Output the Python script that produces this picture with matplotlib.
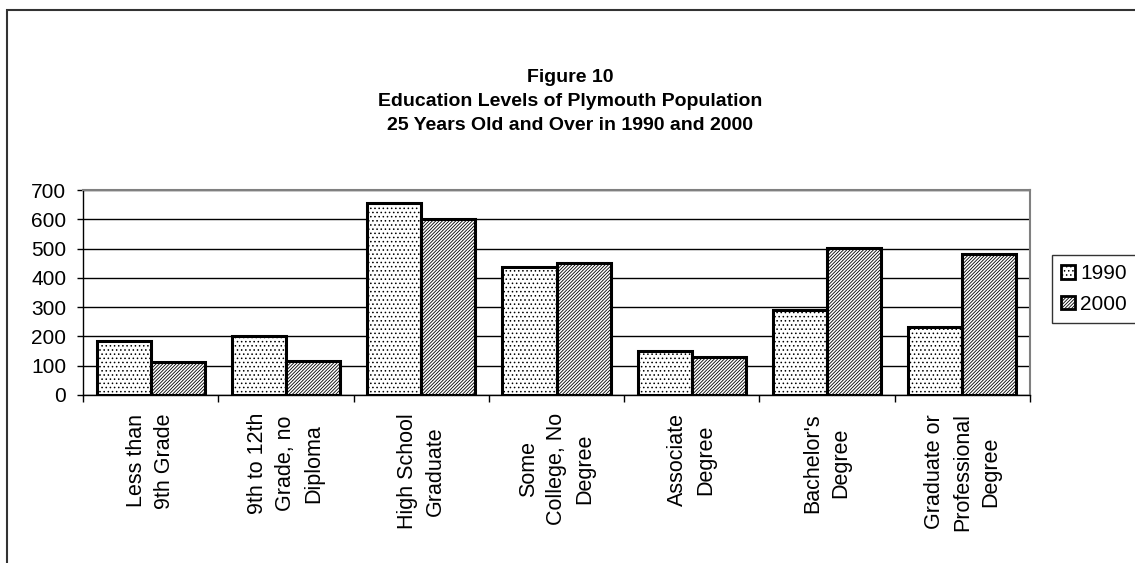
import numpy as np
import matplotlib.pyplot as plt
from matplotlib.patches import Rectangle, Patch

plt.rcParams['font.family'] = ['Liberation Sans', 'DejaVu Sans']
plt.rcParams['hatch.linewidth'] = 0.6

# Données : population de 25 ans et plus par niveau d'études
categories = [
    "Less than\n9th Grade",
    "9th to 12th\nGrade, no\nDiploma",
    "High School\nGraduate",
    "Some\nCollege, No\nDegree",
    "Associate\nDegree",
    "Bachelor's\nDegree",
    "Graduate or\nProfessional\nDegree",
]
annees = ["1990", "2000"]
valeurs_1990 = [185, 200, 655, 438, 150, 290, 232]
valeurs_2000 = [114, 115, 601, 452, 131, 502, 482]
graduations_y = [0, 100, 200, 300, 400, 500, 600, 700]

titre = ("Figure 10\nEducation Levels of Plymouth Population\n"
         "25 Years Old and Over in 1990 and 2000")

fig = plt.figure(figsize=(11.35, 5.63), dpi=100)
ax = fig.add_axes([83 / 1135, 1 - 395 / 563, (1030 - 83) / 1135, 205 / 563])

# Cadre extérieur du graphique
fig.patches.append(Rectangle((7 / 1135, -0.1), 1.2, 1.1 - 10 / 563,
                             transform=fig.transFigure, fill=False,
                             edgecolor='#333333', linewidth=1.5))

x = np.arange(len(categories))
largeur = 0.4
ax.bar(x - largeur / 2, valeurs_1990, largeur, color='white',
       edgecolor='black', linewidth=2.2, hatch='....', zorder=3)
ax.bar(x + largeur / 2, valeurs_2000, largeur, color='white',
       edgecolor='black', linewidth=2.2, hatch='//////////', zorder=3)

ax.set_xlim(-0.5, len(categories) - 0.5)
ax.set_ylim(0, 700)
ax.set_yticks(graduations_y)
ax.tick_params(axis='y', labelsize=15, length=4, width=1, pad=8)

# Traits de graduation entre les catégories, étiquettes au centre
ax.set_xticks(np.arange(-0.5, len(categories)), labels=[])
ax.set_xticks(x, labels=categories, minor=True)
ax.tick_params(axis='x', which='major', length=5, width=1)
ax.tick_params(axis='x', which='minor', length=0, pad=13, labelsize=15.5)
for lab in ax.get_xticklabels(minor=True):
    lab.set_rotation(90)
    lab.set_ha('center')
    lab.set_va('top')
    lab.set_multialignment('center')
    lab.set_linespacing(1.45)

ax.yaxis.grid(True, color='black', linewidth=1)
ax.set_axisbelow(True)
for cote in ['top', 'right']:
    ax.spines[cote].set_color('#808080')
    ax.spines[cote].set_linewidth(1.5)
for cote in ['left', 'bottom']:
    ax.spines[cote].set_color('black')
    ax.spines[cote].set_linewidth(1)

fig.text(0.502, 1 - 69 / 563, titre, ha='center', va='top',
         fontsize=14, fontweight='bold', linespacing=1.55)

poignees = [
    Patch(facecolor='white', edgecolor='black', linewidth=2, hatch='....'),
    Patch(facecolor='white', edgecolor='black', linewidth=2, hatch='//////////'),
]
leg = fig.legend(poignees, annees, loc='upper left',
                 bbox_to_anchor=(1052 / 1135, 1 - 255 / 563),
                 fontsize=15, frameon=True, fancybox=False,
                 handlelength=0.65, handleheight=0.65, handletextpad=0.25,
                 borderpad=0.45, labelspacing=0.55, borderaxespad=0)
leg.get_frame().set_edgecolor('black')
leg.get_frame().set_linewidth(1)

plt.savefig('out.png', dpi=100)
